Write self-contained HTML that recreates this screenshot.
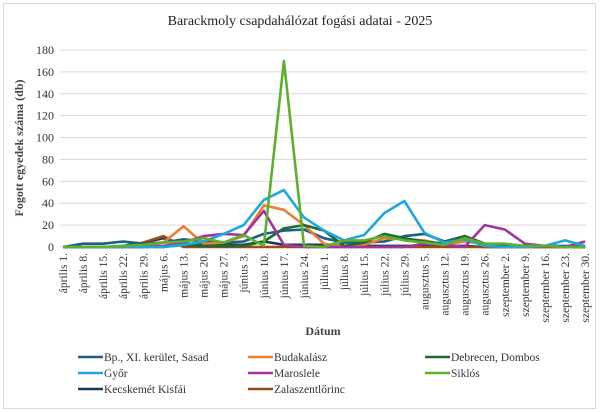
<!DOCTYPE html>
<html><head><meta charset="utf-8"><style>
html,body{margin:0;padding:0;background:#fff;}
svg{display:block;}
text{font-family:"Liberation Serif",serif;fill:#333;}
</style></head><body>
<svg id="s" width="600" height="412" xmlns="http://www.w3.org/2000/svg">
<rect x="3.5" y="3.5" width="592" height="405" fill="#fff" stroke="#d9d9d9"/>
<text x="300" y="25" text-anchor="middle" font-size="14" style="fill:#222">Barackmoly csapdahálózat fogási adatai - 2025</text>
<text transform="translate(23,148) rotate(-90)" text-anchor="middle" font-size="12" font-weight="bold" style="fill:#444">Fogott egyedek száma (db)</text>
<text x="323" y="335" text-anchor="middle" font-size="12" font-weight="bold" style="fill:#444">Dátum</text>
<g id="g"></g>
</svg>
<script>
var s=document.getElementById('g'),ns="http://www.w3.org/2000/svg",h='';
var x0=63,dx=20.08,y0=247,k=197/180;
function X(i){return x0+i*dx} function Y(v){return y0-v*k}
for(var v=0;v<=180;v+=20){var y=Y(v);h+='<line x1="60" x2="587" y1="'+y+'" y2="'+y+'" stroke="#d9d9d9" stroke-width="1"/>';
h+='<text x="54" y="'+(y+4)+'" text-anchor="end" font-size="12">'+v+'</text>';}
var lab=["április 1.","április 8.","április 15.","április 22.","április 29.","május 6.","május 13.","május 20.","május 27.","június 3.","június 10.","június 17.","június 24.","július 1.","július 8.","július 15.","július 22.","július 29.","augusztus 5.","augusztus 12.","augusztus 19.","augusztus 26.","szeptember 2.","szeptember 9.","szeptember 16.","szeptember 23.","szeptember 30."];
lab.forEach(function(t,i){h+='<text transform="translate('+(X(i)+4)+',253) rotate(-90)" text-anchor="end" font-size="11.5">'+t+'</text>';});
var S=[
["#1f5f86",[0,3,3,5,3,4,7,5,4,5,12,15,16,8,4,4,5,10,12,5,10,3,2,1,1,1,1]],
["#ed7d31",[0,0,0,0,0,4,19,3,4,10,38,34,20,3,0,2,8,7,6,2,5,3,2,1,1,0,0]],
["#1e6b30",[0,0,0,0,0,0,2,1,1,1,5,17,20,15,1,4,12,8,5,3,10,3,1,1,1,0,0]],
["#1ea8dc",[0,0,0,0,0,0,2,5,12,20,43,52,27,15,6,11,31,42,13,4,7,1,0,0,1,6,1]],
["#a333a3",[0,0,0,0,0,1,4,10,12,11,33,2,0,0,0,0,0,0,3,2,0,20,16,3,1,0,5]],
["#5bb030",[0,0,0,1,2,4,5,8,4,11,1,170,1,0,6,6,10,6,4,2,8,3,3,1,1,0,0]],
["#1c3a57",[0,0,0,1,4,8,3,2,2,2,5,2,2,2,1,1,1,1,1,1,1,0,0,0,0,0,0]],
["#9c4a1a",[0,0,0,0,4,10,0,0,0,0,0,0,0,0,0,0,0,0,0,0,0,0,0,0,0,0,0]]];
[6,7,0,1,2,4,3,5].forEach(function(j){var c=S[j];h+='<polyline fill="none" stroke="'+c[0]+'" stroke-width="2.6" stroke-linejoin="round" points="'+c[1].map(function(v,i){return X(i).toFixed(1)+','+Y(v).toFixed(1)}).join(' ')+'"/>';});
var names=["Bp., XI. kerület, Sasad","Budakalász","Debrecen, Dombos","Győr","Maroslele","Siklós","Kecskemét Kisfái","Zalaszentlőrinc"];
var cx=[78,248,425],ry=[361,377,393];
names.forEach(function(n,i){var c=i%3,r=Math.floor(i/3);var y=ry[r];
h+='<line x1="'+cx[c]+'" x2="'+(cx[c]+25)+'" y1="'+(y-4)+'" y2="'+(y-4)+'" stroke="'+S[i][0]+'" stroke-width="2.6"/>';
h+='<text x="'+(cx[c]+26)+'" y="'+y+'" font-size="11.5">'+n+'</text>';});
s.innerHTML=h;
</script>
</body></html>
